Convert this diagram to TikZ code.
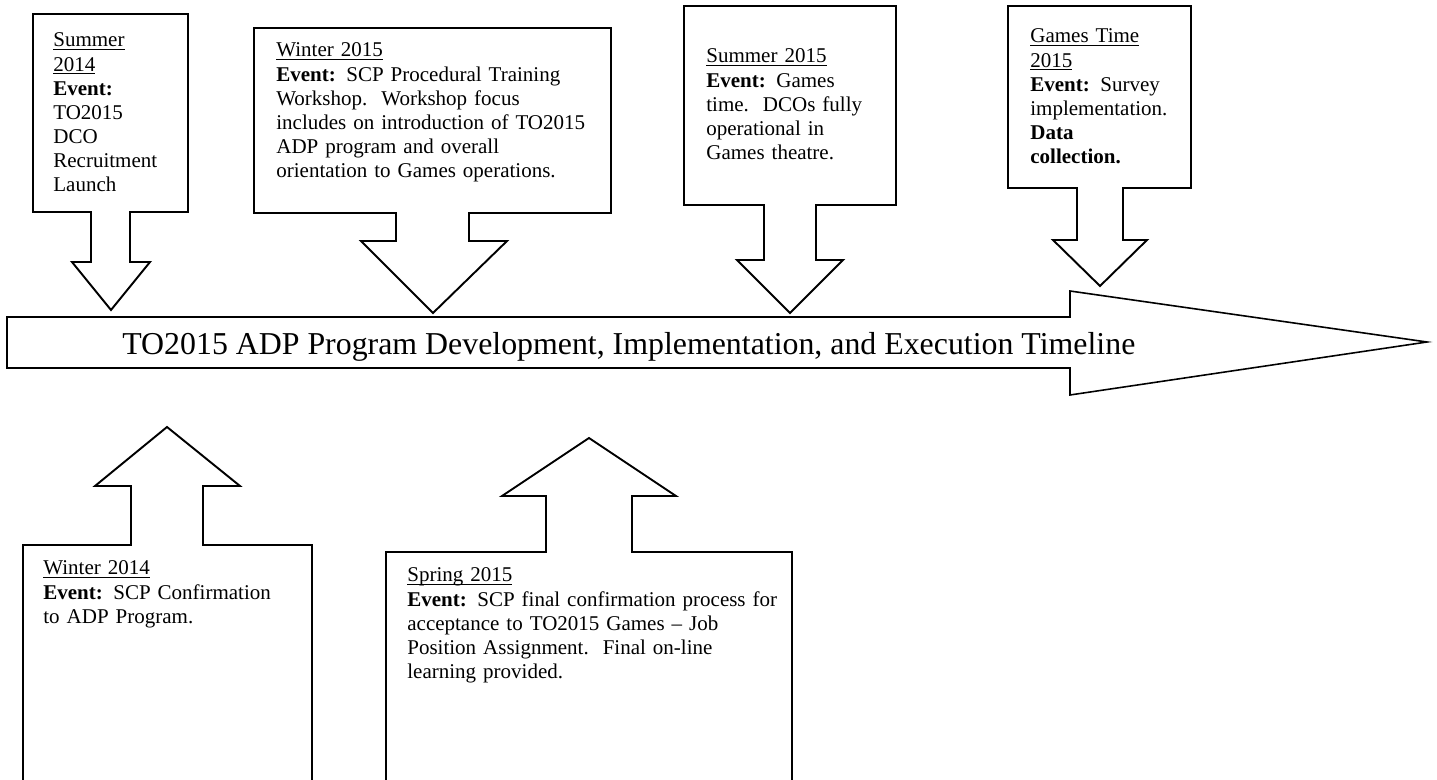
\documentclass[tikz,border=0pt]{standalone}
\usepackage{fontspec}
\setmainfont{Liberation Serif}
\newcommand\ulin[1]{\underline{\smash{#1}}}
\tikzset{
  shape line/.style={draw=black, line width=1.1pt, fill=white, line join=miter},
  main line/.style={draw=black, line width=0.9pt, fill=white, line join=miter},
  boxtext/.style={anchor=base west, inner sep=0pt, align=left, text width=#1,
    font=\fontsize{12}{13.8}\selectfont},
  titletext/.style={anchor=base west, inner sep=0pt, font=\fontsize{18.2}{21}\selectfont}
}
\begin{document}
\begin{tikzpicture}[x=0.5714pt, y=-0.5714pt]
\useasboundingbox (0,0) rectangle (1437,780);
\clip (0,0) rectangle (1437,780);

% main timeline arrow
\path[main line] (7,317) -- (1070,317) -- (1070,291) -- (1427,342) -- (1070,395)
  -- (1070,368) -- (7,368) -- cycle;
\node[titletext] (title) at (122,355) {TO2015 ADP Program Development, Implementation, and Execution Timeline};

% Summer 2014 (down)
\path[shape line] (33,14) -- (188,14) -- (188,212) -- (130,212) -- (130,262) -- (150,262)
  -- (111,310) -- (72,262) -- (91,262) -- (91,212) -- (33,212) -- cycle;
\node[boxtext=100pt] (s14) at (53,47)
  {\ulin{Summer}\\\ulin{2014}\\\textbf{Event:}\\TO2015\\DCO\\Recruitment\\Launch};

% Winter 2015 (down)
\path[shape line] (254,28) -- (611,28) -- (611,213) -- (469,213) -- (469,241) -- (507,241)
  -- (433,313) -- (361,241) -- (396,241) -- (396,213) -- (254,213) -- cycle;
\node[boxtext=330pt] (w15) at (276,57)
  {\ulin{Winter 2015}\\\textbf{Event:} SCP Procedural Training\\Workshop.\ \ Workshop focus\\includes on introduction of TO2015\\ADP program and overall\\orientation to Games operations.};

% Summer 2015 (down)
\path[shape line] (684,6) -- (896,6) -- (896,205) -- (816,205) -- (816,260) -- (843,260)
  -- (790,313) -- (737,260) -- (764,260) -- (764,205) -- (684,205) -- cycle;
\node[boxtext=200pt] (s15) at (706,63)
  {\ulin{Summer 2015}\\\textbf{Event:} Games\\time.\ \ DCOs fully\\operational in\\Games theatre.};

% Games Time 2015 (down)
\path[shape line] (1008,6) -- (1191,6) -- (1191,188) -- (1123,188) -- (1123,240) -- (1147,240)
  -- (1100,286) -- (1053,240) -- (1077,240) -- (1077,188) -- (1008,188) -- cycle;
\node[boxtext=200pt] (g15) at (1030,43)
  {\ulin{Games Time}\\\ulin{2015}\\\textbf{Event:} Survey\\implementation.\\\textbf{Data}\\\textbf{collection.}};

% Winter 2014 (up)
\path[shape line] (23,790) -- (23,545) -- (131,545) -- (131,486) -- (95,486) -- (167,427)
  -- (240,486) -- (203,486) -- (203,545) -- (312,545) -- (312,790) -- cycle;
\node[boxtext=200pt] (w14) at (43,575)
  {\ulin{Winter 2014}\\\textbf{Event:} SCP Confirmation\\to ADP Program.};

% Spring 2015 (up)
\path[shape line] (386,790) -- (386,552) -- (546,552) -- (546,496) -- (502,496) -- (589,438)
  -- (676,496) -- (632,496) -- (632,552) -- (792,552) -- (792,790) -- cycle;
\node[boxtext=300pt] (sp15) at (407,582)
  {\ulin{Spring 2015}\\\textbf{Event:} SCP final confirmation process for\\acceptance to TO2015 Games -- Job\\Position Assignment.\ \ Final on-line\\learning provided.};
\end{tikzpicture}
\end{document}
